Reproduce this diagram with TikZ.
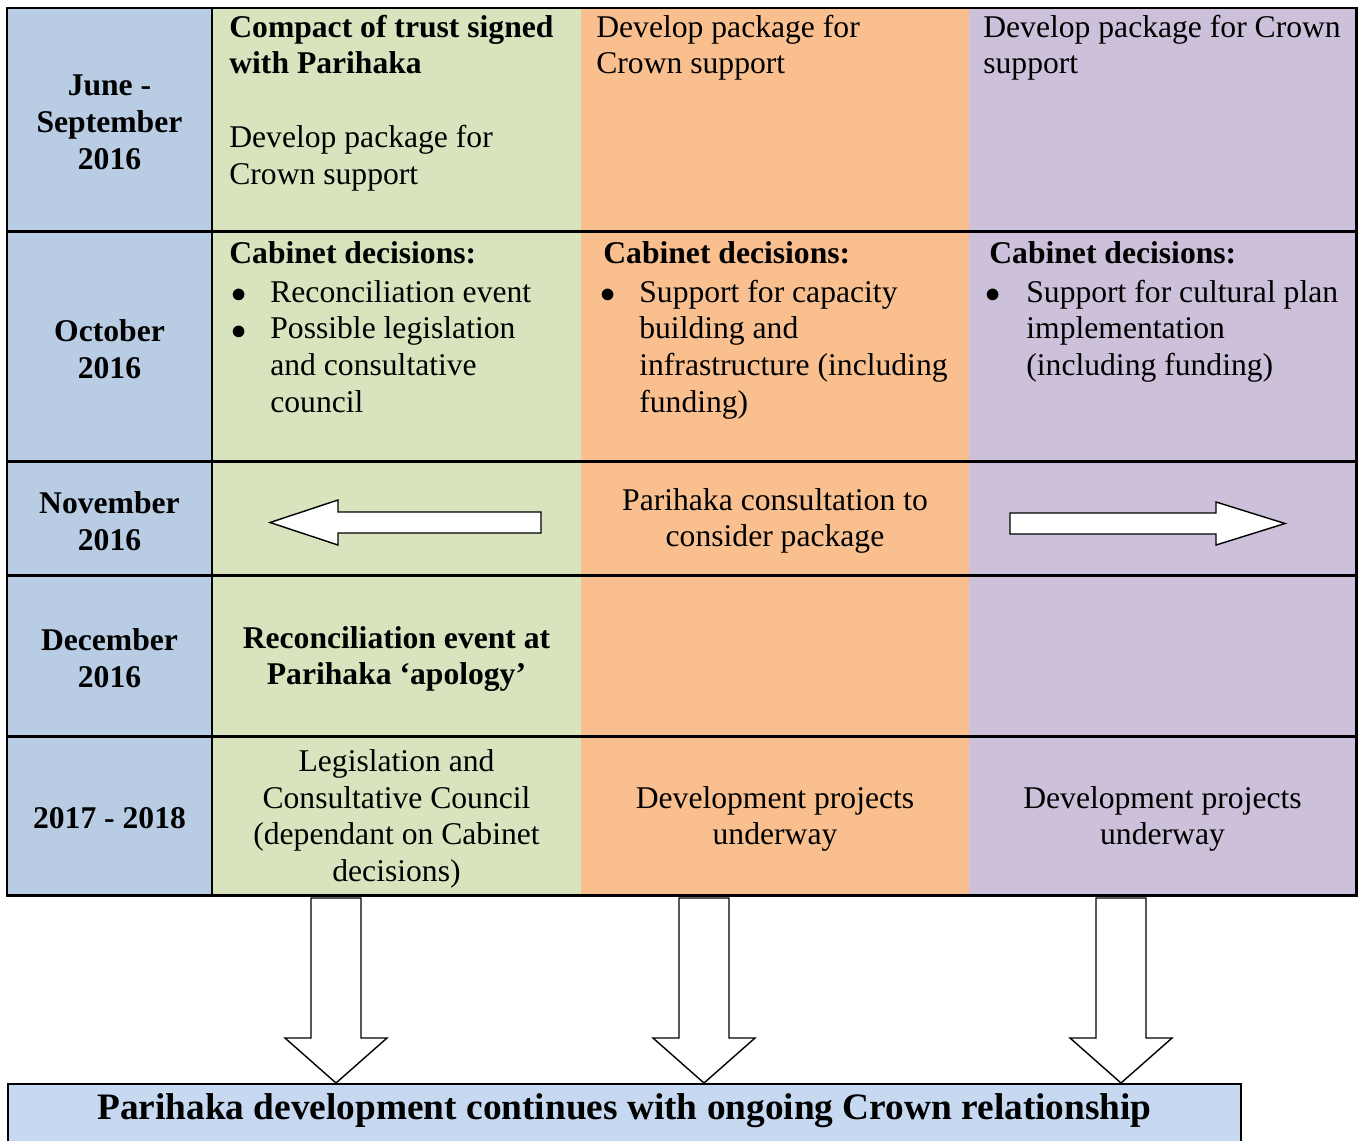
\documentclass[tikz,border=0pt]{standalone}
\usepackage{fontspec}
\setmainfont{Liberation Serif}
\definecolor{datecol}{HTML}{B8CCE4}
\definecolor{leftcol}{HTML}{D7E4BD}
\definecolor{midcol}{HTML}{F9BF8F}
\definecolor{rightcol}{HTML}{CCC0DA}
\definecolor{endcol}{HTML}{C6D9F1}
\tikzset{
  cell/.style={font=\fontsize{18}{20.9}\selectfont, inner sep=0pt, align=left, anchor=north west},
  midcell/.style={font=\fontsize{18}{20.9}\selectfont, inner sep=0pt, align=center},
  boldmid/.style={midcell, font=\fontsize{18}{20.9}\selectfont\bfseries},
  bul/.style={font=\fontsize{18}{20.9}\selectfont, inner sep=0pt, anchor=base},
  gridline/.style={line width=1.7pt},
  fatarrow/.style={draw=black, fill=white, line width=0.8pt},
}
\begin{document}
\begin{tikzpicture}[x=0.02cm,y=-0.02cm]
\path[use as bounding box, clip] (0,0) rectangle (1358,1140);
% column colours
\fill[datecol] (7,8) rectangle (212,895);
\fill[leftcol] (212,8) rectangle (581,895);
\fill[midcol] (581,8) rectangle (969,895);
\fill[rightcol] (969,8) rectangle (1356,895);
% table rules
\draw[gridline] (7,8) rectangle (1356,895);
\draw[gridline] (212,8) -- (212,895);
\foreach \y in {231,461,575,736}
  \draw[gridline] (7,\y) -- (1356,\y);

% dates
\node[boldmid] (jun) at (109.5,122.5) {June -\\September\\2016};
\node[boldmid] (oct) at (109.5,349) {October\\2016};
\node[boldmid] (nov) at (109.5,521) {November\\2016};
\node[boldmid] (dec) at (109.5,658.5) {December\\2016};
\node[boldmid] (yrs) at (109.5,818.5) {2017 - 2018};

% June - September (top of strut = baseline - 25.8)
\node[cell] (junl) at (229,11.2) {\strut\textbf{Compact of trust signed}\\\textbf{with Parihaka}\\[20.9pt]Develop package for\\Crown support};
\node[cell] (junm) at (596,11.2) {\strut Develop package for\\Crown support};
\node[cell] (junr) at (983,11.2) {\strut Develop package for Crown\\support};

% October
\node[cell] (octl) at (229,237.2) {\strut\textbf{Cabinet decisions:}};
\node[bul] (octla) at (239,302) {$\bullet$};
\node[bul] (octlb) at (239,339) {$\bullet$};
\node[cell] (octlt) at (270,276.2) {\strut Reconciliation event\\Possible legislation\\and consultative\\council};
\node[cell] (octm) at (603,237.2) {\strut\textbf{Cabinet decisions:}};
\node[bul] (octma) at (608,302) {$\bullet$};
\node[cell] (octmt) at (639,276.2) {\strut Support for capacity\\building and\\infrastructure (including\\funding)};
\node[cell] (octr) at (989,237.2) {\strut\textbf{Cabinet decisions:}};
\node[bul] (octra) at (993,302) {$\bullet$};
\node[cell] (octrt) at (1026,276.2) {\strut Support for cultural plan\\implementation\\(including funding)};

% November
\draw[fatarrow] (541,512) -- (338,512) -- (338,500) -- (270,522.5) -- (338,545) -- (338,533) -- (541,533) -- cycle;
\node[midcell] (novm) at (775,521) {Parihaka consultation to\\consider package};
\draw[fatarrow] (1010,513) -- (1216,513) -- (1216,502) -- (1285,523.5) -- (1216,545) -- (1216,534) -- (1010,534) -- cycle;

% December
\node[boldmid] (decl) at (396.5,659) {Reconciliation event at\\Parihaka ‘apology’};

% 2017 - 2018
\node[midcell] (yrsl) at (396.5,819) {Legislation and\\Consultative Council\\(dependant on Cabinet\\decisions)};
\node[midcell] (yrsm) at (775,819) {Development projects\\underway};
\node[midcell] (yrsr) at (1162.5,819) {Development projects\\underway};

% outcome
\node[draw, fill=endcol, line width=1.1pt, inner sep=0pt, minimum width=24.66cm, text height=0.72cm, text depth=0.86cm, anchor=north, font=\fontsize{21.25}{24}\selectfont\bfseries] (goal) at (624.5,1083) {Parihaka development continues with ongoing Crown relationship};
\foreach \cx in {336,704,1121}
  \draw[fatarrow] (\cx,898) ++(-25,0) -- ++(50,0) -- ++(0,140) -- ++(26,0) -- (\cx,0 |- goal.north) -- ++(-51,-45) -- ++(26,0) -- cycle;
\end{tikzpicture}
\end{document}
